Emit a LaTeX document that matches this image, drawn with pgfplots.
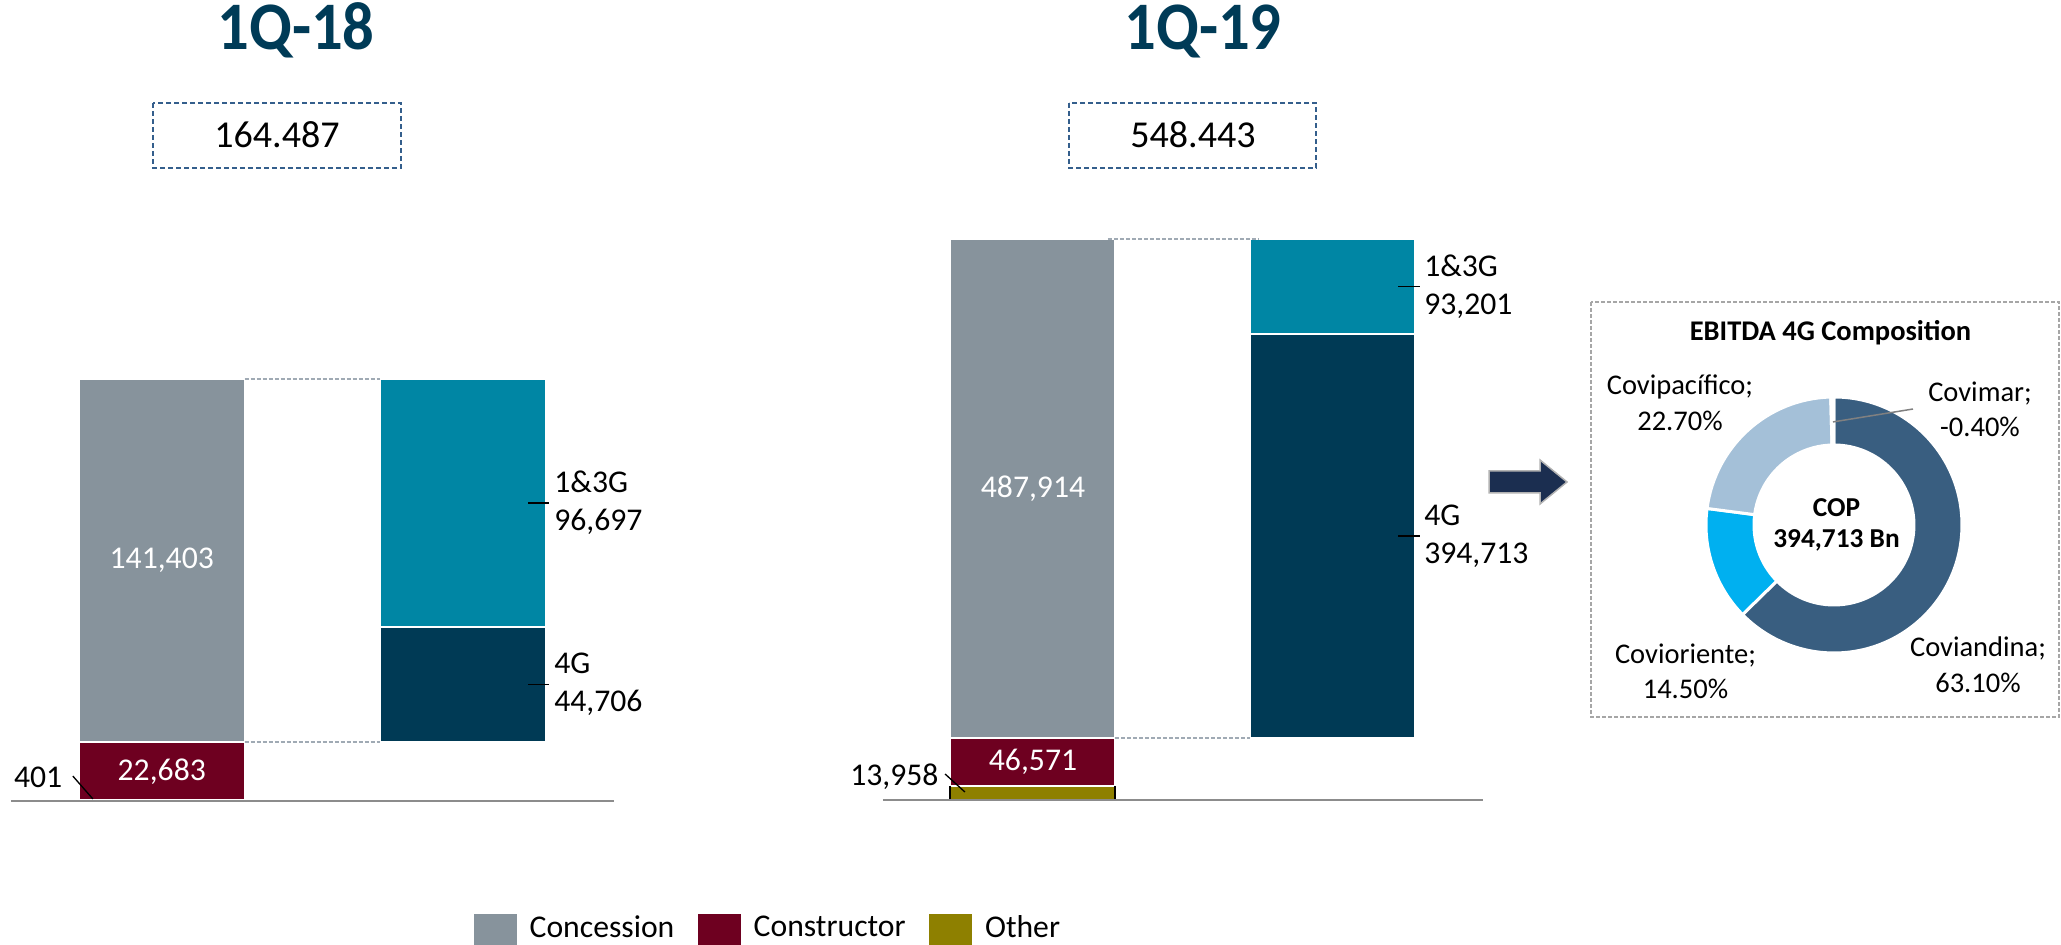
\documentclass[border=0pt]{standalone}
\usepackage{pgfplots}
\pgfplotsset{compat=1.18}
\usepackage{fontspec}
\setmainfont{Carlito}
\usepackage{graphicx}

\definecolor{cConc}{RGB}{135,147,156}
\definecolor{cCons}{RGB}{110,0,32}
\definecolor{cOther}{RGB}{142,128,0}
\definecolor{cOneThree}{RGB}{0,134,164}
\definecolor{cFourG}{RGB}{0,58,85}
\definecolor{cTitle}{RGB}{0,59,87}
\definecolor{cBox}{RGB}{52,94,140}
\definecolor{cDash}{RGB}{160,170,180}
\definecolor{cBase}{RGB}{140,140,140}
\definecolor{cAnd}{RGB}{57,94,128}
\definecolor{cOri}{RGB}{0,176,240}
\definecolor{cPac}{RGB}{164,192,216}
\definecolor{cArrow}{RGB}{27,46,80}
\definecolor{cPanel}{RGB}{166,166,166}

\newcommand{\fTitle}{\fontsize{20.4}{24}\selectfont\bfseries}
\newcommand{\fBox}{\fontsize{11.4}{13.7}\selectfont}
\newcommand{\fLab}{\fontsize{9.5}{11.4}\selectfont}
\newcommand{\fDon}{\fontsize{8.55}{10.5}\selectfont}
\newcommand{\fCen}{\fontsize{8.2}{9.3}\selectfont\bfseries}

% donut data (percent of EBITDA 4G)
\def\vAnd{63.1}\def\vOri{14.5}\def\vPac{22.7}\def\vMar{-0.4}

\pgfplotsset{
  wfall/.style={
    scale only axis, hide axis, clip=false,
    ybar stacked, bar width=0.55,
    xmin=-0.5, xmax=1.5, ymin=0,
    every axis plot/.append style={draw=white, line width=0.6pt},
  },
}

\begin{document}
\begin{tikzpicture}[x=0.3pt,y=0.3pt]
\path[use as bounding box] (0,0) rectangle (2061,945);

\pgfmathsetmacro{\tot}{\vAnd+\vOri+\vPac+abs(\vMar)}
\pgfmathsetmacro{\k}{360/\tot}
\pgfmathsetmacro{\aA}{90}
\pgfmathsetmacro{\aB}{\aA-\k*\vAnd}
\pgfmathsetmacro{\aC}{\aB-\k*\vOri}
\pgfmathsetmacro{\aD}{\aC-\k*\vPac}
\pgfmathsetmacro{\aE}{\aD-\k*abs(\vMar)}

% ---------------- titles and totals ----------------
\node[anchor=base, font=\fTitle, text=cTitle, inner sep=0pt] at (296,895) {\scalebox{0.92}[1]{1Q-18}};
\node[anchor=base, font=\fTitle, text=cTitle, inner sep=0pt] at (1203,895) {\scalebox{0.92}[1]{1Q-19}};
\draw[cBox, line width=0.6pt, dash pattern=on 1.5pt off 0.9pt] (153,842) rectangle (401,777);
\node[anchor=base, font=\fBox, inner sep=0pt] at (277,797) {164.487};
\draw[cBox, line width=0.6pt, dash pattern=on 1.5pt off 0.9pt] (1069,842) rectangle (1316,777);
\node[anchor=base, font=\fBox, inner sep=0pt] at (1193,797) {548.443};

% ---------------- 1Q-18 ----------------
\begin{axis}[wfall, at={(3.3pt,43.05pt)}, anchor=south west,
  width=180.9pt, height=126.8pt, ymax=164487]
\addplot[fill=cOther] coordinates {(0,401) (1,0)};
\addplot[fill=cCons] coordinates {(0,22683) (1,0)};
\addplot[fill=cConc] coordinates {(0,141403) (1,0)};
\addplot[fill=none, draw=none] coordinates {(0,0) (1,23084)};
\addplot[fill=cFourG] coordinates {(0,0) (1,44706)};
\addplot[fill=cOneThree] coordinates {(0,0) (1,96697)};
\coordinate (Ld1a) at (axis cs:0.275,164487);
\coordinate (Ld1b) at (axis cs:0.725,164487);
\coordinate (Ld2a) at (axis cs:0.275,23084);
\coordinate (Ld2b) at (axis cs:0.725,23084);
\coordinate (Lconc) at (axis cs:0,93785.5);
\coordinate (Lcons) at (axis cs:0,11742.5);
\coordinate (L13a) at (axis cs:1.215,116138.5);
\coordinate (L13b) at (axis cs:1.285,116138.5);
\coordinate (L13t) at (axis cs:1.30,116138.5);
\coordinate (L4a) at (axis cs:1.215,45437);
\coordinate (L4b) at (axis cs:1.285,45437);
\coordinate (L4t) at (axis cs:1.30,45437);
\coordinate (Lot) at (axis cs:-0.328,5250);
\coordinate (Loa) at (axis cs:-0.295,9900);
\coordinate (Lob) at (axis cs:-0.2285,1000);
\coordinate (Lb0) at (axis cs:-0.5,0);
\coordinate (Lb1) at (axis cs:1.5,0);
\end{axis}
\draw[cDash, line width=0.5pt, dash pattern=on 1.2pt off 0.6pt] (Ld1a) -- (Ld1b);
\draw[cDash, line width=0.5pt, dash pattern=on 1.2pt off 0.6pt, yshift=1.5pt] (Ld2a) -- (Ld2b);
\node[text=white, font=\fLab, inner sep=0pt] at (Lconc) {141,403};
\node[text=white, font=\fLab, inner sep=0pt] at (Lcons) {22,683};
\draw[black, line width=0.45pt] (L13a) -- (L13b);
\node[anchor=west, align=left, font=\fLab, inner sep=0pt] at (L13t) {1\&3G\\96,697};
\draw[black, line width=0.45pt] (L4a) -- (L4b);
\node[anchor=west, align=left, font=\fLab, inner sep=0pt] at (L4t) {4G\\44,706};
\node[anchor=base east, font=\fLab, inner sep=0pt] at (Lot) {401};
\draw[black, line width=0.4pt] (Loa) -- (Lob);
\draw[cBase, line width=0.6pt] (Lb0) -- (Lb1);

% ---------------- 1Q-19 ----------------
\begin{axis}[wfall, at={(264.9pt,43.5pt)}, anchor=south west,
  width=180pt, height=168.3pt, ymax=548443,
  legend columns=3, reverse legend,
  legend image code/.code={\fill[#1, draw=none] (0pt,-4.65pt) rectangle (12.9pt,4.65pt);},
  legend style={at={(axis description cs:-0.6833,-0.23)}, anchor=west,
    draw=none, fill=none, inner sep=0pt, font=\fLab,
    nodes={inner sep=0pt},
    /tikz/every odd column/.append style={column sep=3.9pt},
    /tikz/every even column/.append style={column sep=7pt}},
  ]
\addplot[fill=cOther] coordinates {(0,13958) (1,0)};
\addplot[fill=cCons] coordinates {(0,46571) (1,0)};
\addplot[fill=cConc] coordinates {(0,487914) (1,0)};
\addplot[fill=none, draw=none, forget plot] coordinates {(0,0) (1,60529)};
\addplot[fill=cFourG, forget plot] coordinates {(0,0) (1,394713)};
\addplot[fill=cOneThree, forget plot] coordinates {(0,0) (1,93201)};
\legend{Other,Constructor,Concession}
\coordinate (Rd1a) at (axis cs:0.25,548443);
\coordinate (Rd1b) at (axis cs:0.753,548443);
\coordinate (Rd2a) at (axis cs:0.275,60529);
\coordinate (Rd2b) at (axis cs:0.725,60529);
\coordinate (Rconc) at (axis cs:0,304486);
\coordinate (Rcons) at (axis cs:0,37243.5);
\coordinate (R13a) at (axis cs:1.218,501842.5);
\coordinate (R13b) at (axis cs:1.289,501842.5);
\coordinate (R13t) at (axis cs:1.302,501842.5);
\coordinate (R4a) at (axis cs:1.218,257885.5);
\coordinate (R4b) at (axis cs:1.289,257885.5);
\coordinate (R4t) at (axis cs:1.302,257885.5);
\coordinate (Rot) at (axis cs:-0.313,13700);
\coordinate (Roa) at (axis cs:-0.293,25400);
\coordinate (Rob) at (axis cs:-0.227,7800);
\coordinate (Rb0) at (axis cs:-0.5,0);
\coordinate (Rb1) at (axis cs:1.5,0);
\coordinate (Re1a) at (axis cs:-0.275,0);
\coordinate (Re1b) at (axis cs:-0.275,13958);
\coordinate (Re2a) at (axis cs:0.275,0);
\coordinate (Re2b) at (axis cs:0.275,13958);
\end{axis}
\draw[black, line width=0.6pt] (Re1a) -- (Re1b);
\draw[black, line width=0.6pt] (Re2a) -- (Re2b);
\draw[cDash, line width=0.5pt, dash pattern=on 1.2pt off 0.6pt] (Rd1a) -- (Rd1b);
\draw[cDash, line width=0.5pt, dash pattern=on 1.2pt off 0.6pt, yshift=1.8pt] (Rd2a) -- (Rd2b);
\node[text=white, font=\fLab, inner sep=0pt] at (Rconc) {487,914};
\node[text=white, font=\fLab, inner sep=0pt] at (Rcons) {46,571};
\draw[black, line width=0.45pt] (R13a) -- (R13b);
\node[anchor=west, align=left, font=\fLab, inner sep=0pt] at (R13t) {1\&3G\\93,201};
\draw[black, line width=0.45pt] (R4a) -- (R4b);
\node[anchor=west, align=left, font=\fLab, inner sep=0pt] at (R4t) {4G\\394,713};
\node[anchor=base east, font=\fLab, inner sep=0pt] at (Rot) {13,958};
\draw[black, line width=0.4pt] (Roa) -- (Rob);
\draw[cBase, line width=0.6pt] (Rb0) -- (Rb1);

% ---------------- arrow ----------------
\fill[cArrow, draw=gray!60, line width=0.45pt] (1489,474) -- (1540,474) -- (1540,485) -- (1567,463) -- (1540,441) -- (1540,452) -- (1489,452) -- cycle;

% ---------------- donut panel ----------------
\draw[cPanel, line width=0.45pt, dash pattern=on 1.2pt off 0.6pt] (1591,643) rectangle (2059,228);
\node[anchor=base, font=\fDon\bfseries, inner sep=0pt] at (1830.5,604) {EBITDA 4G Composition};

\begin{axis}[at={(550.2pt,126pt)}, anchor=center, scale only axis, hide axis, clip=false,
  width=76.8pt, height=76.8pt, xmin=-1, xmax=1, ymin=-1, ymax=1]
\addplot[draw=none, forget plot] coordinates {(0,0)};
\fill[cAnd, draw=white, line width=0.9pt] (axis cs:{cos(\aA)},{sin(\aA)}) arc[start angle=\aA, end angle=\aB, radius=38.4pt] -- (axis cs:{0.625*cos(\aB)},{0.625*sin(\aB)}) arc[start angle=\aB, end angle=\aA, radius=24pt] -- cycle;
\fill[cOri, draw=white, line width=0.9pt] (axis cs:{cos(\aB)},{sin(\aB)}) arc[start angle=\aB, end angle=\aC, radius=38.4pt] -- (axis cs:{0.625*cos(\aC)},{0.625*sin(\aC)}) arc[start angle=\aC, end angle=\aB, radius=24pt] -- cycle;
\fill[cPac, draw=white, line width=0.9pt] (axis cs:{cos(\aC)},{sin(\aC)}) arc[start angle=\aC, end angle=\aD, radius=38.4pt] -- (axis cs:{0.625*cos(\aD)},{0.625*sin(\aD)}) arc[start angle=\aD, end angle=\aC, radius=24pt] -- cycle;
\fill[white, draw=white, line width=0.9pt] (axis cs:{cos(\aD)},{sin(\aD)}) arc[start angle=\aD, end angle=\aE, radius=38.4pt] -- (axis cs:{0.625*cos(\aE)},{0.625*sin(\aE)}) arc[start angle=\aE, end angle=\aD, radius=24pt] -- cycle;
\draw[gray, line width=0.45pt] (axis cs:-0.008,0.805) -- (axis cs:0.617,0.906);
\end{axis}

\node[anchor=base, font=\fDon, inner sep=0pt] at (1680,550) {Covipacífico;};
\node[anchor=base, font=\fDon, inner sep=0pt] at (1680,514.3) {22.70\%};
\node[anchor=base, font=\fDon, inner sep=0pt] at (1980,543) {Covimar;};
\node[anchor=base, font=\fDon, inner sep=0pt] at (1980,508) {-0.40\%};
\node[anchor=base, font=\fDon, inner sep=0pt] at (1685.5,281) {Covioriente;};
\node[anchor=base, font=\fDon, inner sep=0pt] at (1685.5,246) {14.50\%};
\node[anchor=base, font=\fDon, inner sep=0pt] at (1978,288) {Coviandina;};
\node[anchor=base, font=\fDon, inner sep=0pt] at (1978,252) {63.10\%};
\node[anchor=base, font=\fCen, inner sep=0pt] at (1836.5,428) {COP};
\node[anchor=base, font=\fCen, inner sep=0pt] at (1836.5,397) {394,713 Bn};
\end{tikzpicture}
\end{document}
